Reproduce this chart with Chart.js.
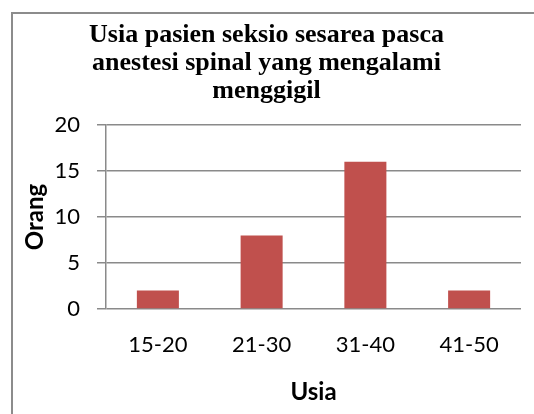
<!DOCTYPE html>
<html>
<head>
<meta charset="utf-8">
<script src="https://cdn.jsdelivr.net/npm/chart.js@4.4.0/dist/chart.umd.min.js"></script>
<style>
  html, body { margin: 0; padding: 0; background: #fff; overflow: hidden; }
  #wrap { position: relative; width: 534px; height: 414px; }
  #frame { position: absolute; left: 11px; top: 12px; width: 600px; height: 500px;
           border-left: 2px solid #8c8c8c; border-top: 2px solid #8c8c8c; }
  canvas { position: absolute; left: 0; top: 0; }
</style>
</head>
<body>
<div id="wrap">
  <div id="frame"></div>
  <canvas id="myChart" width="534" height="414"></canvas>
</div>
<script>
const kategori = ['15-20', '21-30', '31-40', '41-50'];
const jumlahOrang = [2, 8, 16, 2];
const judul = ['Usia pasien seksio sesarea pasca', 'anestesi spinal yang mengalami', 'menggigil'];
const judulX = 'Usia';
const judulY = 'Orang';

const tickFont = { family: 'Lato', size: 22 };
const axisTitleFont = { family: 'Lato', size: 24, weight: 'bold' };
const gridColor = '#8a8a8a';

const ctx = document.getElementById('myChart').getContext('2d');
let myChart = new Chart(ctx, {
    type: 'bar',
    data: {
        labels: kategori,
        datasets: [{
            label: judulY,
            data: jumlahOrang,
            backgroundColor: '#C0504D',
            borderWidth: 0,
            barPercentage: 0.5,
            categoryPercentage: 0.81
        }]
    },
    options: {
        responsive: false,
        animation: false,
        layout: { padding: { left: 12, right: 13, top: 0, bottom: 0 } },
        plugins: {
            legend: { display: false },
            tooltip: { enabled: false },
            title: {
                display: true,
                text: judul,
                color: '#000',
                font: { family: 'Liberation Serif', size: 26, weight: 'bold', lineHeight: 28 / 26 },
                padding: { top: 21, bottom: 20 }
            }
        },
        scales: {
            x: {
                grid: { display: false },
                border: { display: false },
                ticks: { color: '#000', font: tickFont, padding: 15, maxRotation: 0 },
                title: {
                    display: true,
                    text: judulX,
                    color: '#000',
                    font: axisTitleFont,
                    padding: { top: 6, bottom: 7 }
                },
                afterFit: (scale) => { scale.height = 105; }
            },
            y: {
                min: 0,
                max: 20,
                ticks: { stepSize: 5, color: '#000', font: tickFont, padding: 17 },
                grid: { color: gridColor, lineWidth: 1.5, tickLength: 9 },
                border: { display: true, color: gridColor, width: 1.5 },
                title: {
                    display: true,
                    text: judulY,
                    color: '#000',
                    font: axisTitleFont,
                    padding: { top: 9, bottom: 0 }
                },
                afterFit: (scale) => { scale.width = 94; }
            }
        }
    }
});
</script>
</body>
</html>
